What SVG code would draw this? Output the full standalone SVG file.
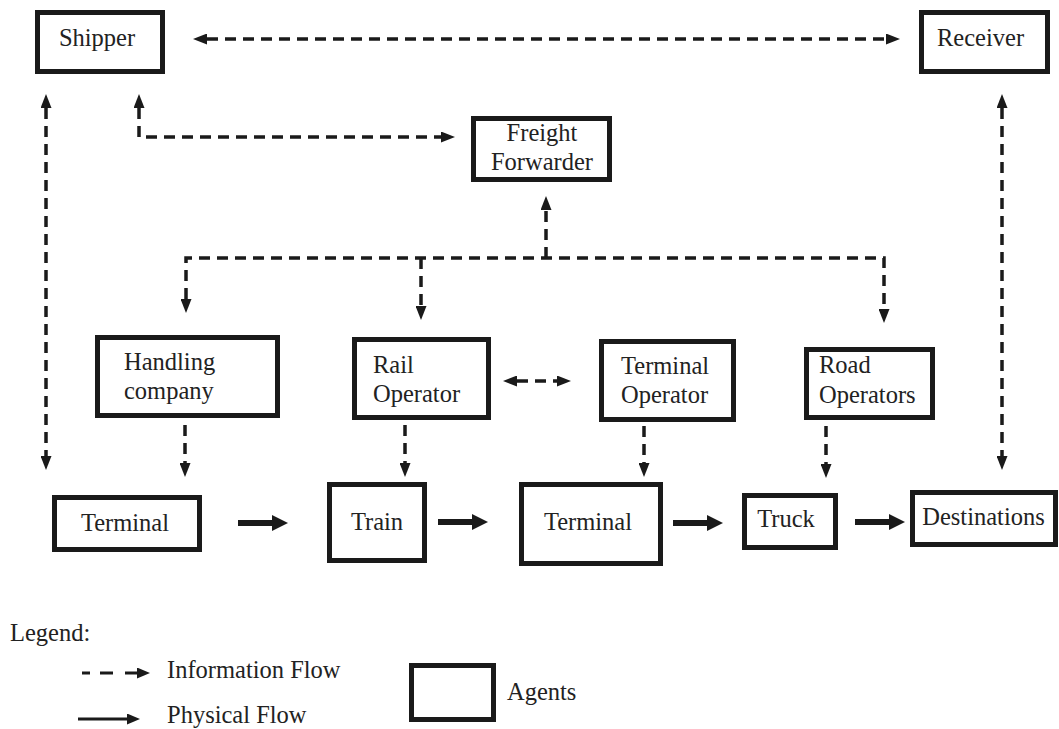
<svg xmlns="http://www.w3.org/2000/svg" width="1059" height="729" viewBox="0 0 1059 729">
  <defs>
    <marker id="ah" markerUnits="userSpaceOnUse" markerWidth="14" markerHeight="11" refX="0" refY="5.5" orient="auto-start-reverse">
      <path d="M0,0 L14,5.5 L0,11 z" fill="#1a1a1a"/>
    </marker>
    <marker id="ahp" markerUnits="userSpaceOnUse" markerWidth="16" markerHeight="16" refX="0" refY="8" orient="auto">
      <path d="M0,0 L16,8 L0,16 z" fill="#1a1a1a"/>
    </marker>
    <marker id="ahl" markerUnits="userSpaceOnUse" markerWidth="13" markerHeight="11" refX="0" refY="5.5" orient="auto">
      <path d="M0,0 L13,5.5 L0,11 z" fill="#1a1a1a"/>
    </marker>
  </defs>
  <style>
    .box { fill: #fff; stroke: #1a1a1a; stroke-width: 5; }
    text { font-family: 'Liberation Serif', 'Times New Roman', serif; font-size: 24.5px; fill: #222; }
    .tc { text-anchor: middle; }
    .info { fill: none; stroke: #1a1a1a; stroke-width: 3.5; stroke-dasharray: 11 7; }
    .phys { fill: none; stroke: #1a1a1a; stroke-width: 6; marker-end: url(#ahp); }
  </style>
  <rect width="1059" height="729" fill="#fff"/>

  <g id="connectors">
    <path class="info" d="M207,39 H886" marker-start="url(#ah)" marker-end="url(#ah)"/>
    <path class="info" d="M139,108 V137 H441" marker-start="url(#ah)" marker-end="url(#ah)"/>
    <path class="info" d="M46,108 V456" marker-start="url(#ah)" marker-end="url(#ah)"/>
    <path class="info" d="M1002,108 V456" marker-start="url(#ah)" marker-end="url(#ah)"/>
    <path class="info" d="M546,258 V210" marker-end="url(#ah)"/>
    <path class="info" d="M186,299 V258 H884 V309" marker-start="url(#ah)" marker-end="url(#ah)"/>
    <path class="info" d="M421,258 V306" marker-end="url(#ah)"/>
    <path class="info" d="M185,425 V463" marker-end="url(#ah)"/>
    <path class="info" d="M405,425 V463" marker-end="url(#ah)"/>
    <path class="info" d="M644,426 V463" marker-end="url(#ah)"/>
    <path class="info" d="M826,426 V464" marker-end="url(#ah)"/>
    <path class="info" d="M517,381 H557" marker-start="url(#ah)" marker-end="url(#ah)"/>
    <path class="phys" d="M238,523 H272"/>
    <path class="phys" d="M438,522 H472"/>
    <path class="phys" d="M673,523 H707"/>
    <path class="phys" d="M855,522 H889"/>
  </g>

  <g id="shipper"><rect class="box" x="37.5" y="12.5" width="125" height="59"/><text class="tc" x="97" y="46">Shipper</text></g>
  <g id="receiver"><rect class="box" x="921.5" y="12.5" width="126" height="59"/><text x="937" y="46">Receiver</text></g>
  <g id="freight-forwarder"><rect class="box" x="473.5" y="118.5" width="136" height="61"/><text class="tc" x="542" y="141">Freight</text><text class="tc" x="542" y="170">Forwarder</text></g>
  <g id="handling-company"><rect class="box" x="97.5" y="337.5" width="180" height="78"/><text x="124" y="370">Handling</text><text x="124" y="399">company</text></g>
  <g id="rail-operator"><rect class="box" x="354.5" y="339.5" width="134" height="78"/><text x="373" y="373">Rail</text><text x="373" y="402">Operator</text></g>
  <g id="terminal-operator"><rect class="box" x="601.5" y="341.5" width="132" height="78"/><text x="621" y="374">Terminal</text><text x="621" y="403">Operator</text></g>
  <g id="road-operators"><rect class="box" x="806.5" y="349.5" width="126" height="68"/><text x="819" y="373">Road</text><text x="819" y="403">Operators</text></g>
  <g id="terminal-1"><rect class="box" x="54.5" y="497.5" width="145" height="52"/><text class="tc" x="125" y="531">Terminal</text></g>
  <g id="train"><rect class="box" x="329.5" y="484.5" width="95" height="76"/><text class="tc" x="377" y="530">Train</text></g>
  <g id="terminal-2"><rect class="box" x="521.5" y="484.5" width="139" height="79"/><text class="tc" x="588" y="530">Terminal</text></g>
  <g id="truck"><rect class="box" x="744.5" y="495.5" width="91" height="52"/><text class="tc" x="786" y="527">Truck</text></g>
  <g id="destinations"><rect class="box" x="912.5" y="492.5" width="143" height="52"/><text class="tc" x="983.5" y="525">Destinations</text></g>

  <g id="legend">
    <text x="10" y="641">Legend:</text>
    <path d="M82,673 H137" fill="none" stroke="#1a1a1a" stroke-width="3" stroke-dasharray="8 10 13 12 12 0" marker-end="url(#ahl)"/>
    <text x="167" y="678">Information Flow</text>
    <path d="M78,719 H127" fill="none" stroke="#1a1a1a" stroke-width="3" marker-end="url(#ahl)"/>
    <text x="167" y="723">Physical Flow</text>
    <rect class="box" x="411.5" y="665.5" width="82" height="54"/>
    <text x="507" y="700">Agents</text>
  </g>
</svg>
